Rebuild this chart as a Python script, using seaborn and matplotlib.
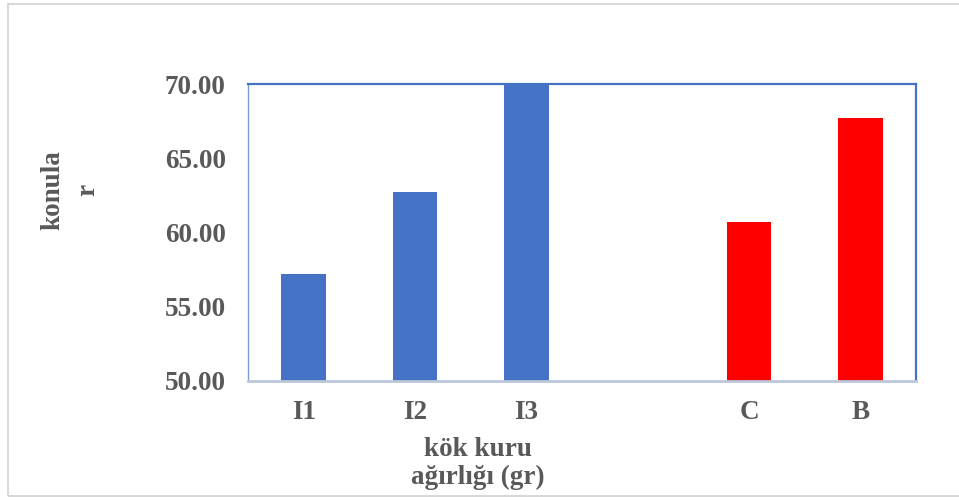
import matplotlib
matplotlib.use("Agg")
import matplotlib.pyplot as plt
import matplotlib.patches as mpatches
import seaborn as sns
import pandas as pd

# Data
categories = ["I1", "I2", "I3", "C", "B"]
values = [57.2, 62.7, 70.0, 60.73, 67.68]
groups = ["I", "I", "I", "K", "K"]
slot_order = ["I1", "I2", "I3", " ", "C", "B"]
group_colors = {"I": "#4472C4", "K": "#FF0000"}
y_ticks = [50, 55, 60, 65, 70]

df = pd.DataFrame({"kategori": categories, "deger": values, "grup": groups})

sns.set_theme(style="white")
plt.rcParams["font.family"] = ["Liberation Serif", "DejaVu Serif"]
text_color = "#595959"
fs = 19.5

fig = plt.figure(figsize=(9.59, 5.0), dpi=100)
ax = fig.add_axes([248 / 959, 1 - 381 / 500, (916 - 248) / 959, (381 - 84) / 500])

sns.barplot(data=df, x="kategori", y="deger", hue="grup", order=slot_order,
            palette=group_colors, width=0.4, dodge=False, legend=False,
            saturation=1, ax=ax, linewidth=0)

ax.set_ylim(50, 70)
ax.set_yticks(y_ticks)
ax.set_yticklabels([f"{v:.2f}" for v in y_ticks])
ax.tick_params(axis="both", length=0, labelsize=fs, labelcolor=text_color)
ax.tick_params(axis="y", pad=16)
ax.tick_params(axis="x", pad=14)
for lab in ax.get_xticklabels() + ax.get_yticklabels():
    lab.set_fontweight("bold")

# Frame
ax.spines["top"].set_color("#4472C4")
ax.spines["right"].set_color("#4472C4")
ax.spines["left"].set_color("#7D9AD6")
ax.spines["bottom"].set_color("#BCC7DA")
for side in ["top", "right"]:
    ax.spines[side].set_linewidth(1.6)
ax.spines["left"].set_linewidth(1.0)
ax.spines["bottom"].set_linewidth(2.0)

ax.set_xlabel("kök kuru\nağırlığı (gr)", fontsize=fs, fontweight="bold",
              color=text_color, linespacing=1.15)
ax.xaxis.set_label_coords((478 - 248) / 668, -0.19)
ax.xaxis.label.set_verticalalignment("top")

ax.set_ylabel("konula\nr", fontsize=fs, fontweight="bold",
              color=text_color, linespacing=1.5)
ax.yaxis.set_label_coords((100 - 248) / 668, (381 - 190) / 297)

# Outer chart-area border
border = mpatches.Rectangle((8 / 959, 4 / 500), 1.0, 492 / 500,
                            transform=fig.transFigure, fill=False,
                            edgecolor="#D9D9D9", linewidth=1.5, clip_on=False)
fig.patches.append(border)

fig.savefig("out.png", dpi=100)
